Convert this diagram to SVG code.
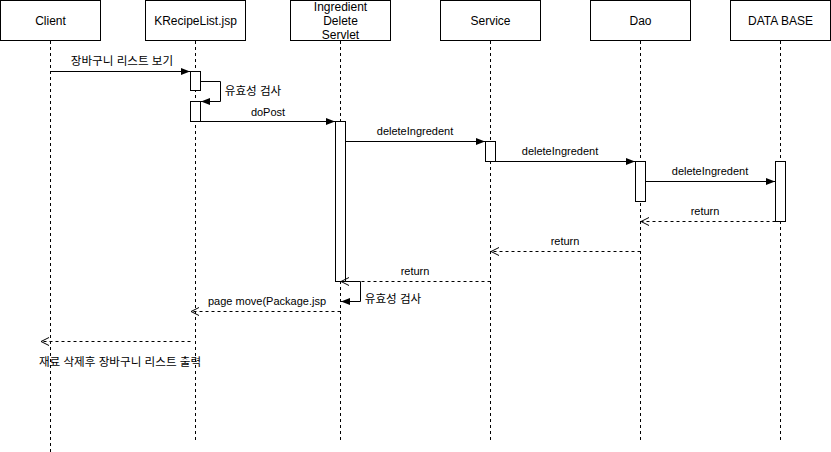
<svg xmlns="http://www.w3.org/2000/svg" width="831" height="452" viewBox="0 0 831 452">
  <style>
    .box { fill: #fff; stroke: #000; stroke-width: 1; }
    .life { stroke: #000; stroke-width: 1; stroke-dasharray: 3 3; fill: none; }
    .act { fill: #fff; stroke: #000; stroke-width: 1; }
    .title { font-family: "Liberation Sans", Arial, sans-serif; font-size: 12px; fill: #000; text-anchor: middle; }
    .lbl { font-family: "Liberation Sans", Arial, "Noto Sans CJK KR", sans-serif; font-size: 11px; fill: #000; text-anchor: middle; }
    .ko { font-size: 11.6px; }
    .call { stroke: #000; stroke-width: 1; fill: none; marker-end: url(#block); }
    .ret { stroke: #000; stroke-width: 1; fill: none; stroke-dasharray: 3 3; marker-end: url(#open); }
  </style>
  <defs>
    <marker id="block" markerWidth="10" markerHeight="8" refX="9" refY="4" orient="auto" markerUnits="userSpaceOnUse">
      <path d="M0,0.5 L9,4 L0,7.5 Z" fill="#000"/>
    </marker>
    <marker id="open" markerWidth="10" markerHeight="10" refX="9" refY="4" orient="auto" markerUnits="userSpaceOnUse">
      <path d="M1,0 L9,4 L1,8" fill="none" stroke="#000" stroke-width="1"/>
    </marker>
  </defs>
  <rect width="831" height="452" fill="#fff"/>

  <!-- participants with their lifelines -->
  <g id="client">
    <line class="life" x1="50.5" y1="41" x2="50.5" y2="452"/>
    <rect class="box" x="0.5" y="0.5" width="100" height="40"/>
    <text class="title" x="50.5" y="25">Client</text>
  </g>
  <g id="krecipelist">
    <line class="life" x1="195.5" y1="41" x2="195.5" y2="440"/>
    <rect class="box" x="145.5" y="0.5" width="100" height="40"/>
    <text class="title" x="195.5" y="25">KRecipeList.jsp</text>
  </g>
  <g id="servlet">
    <line class="life" x1="340.5" y1="41" x2="340.5" y2="440"/>
    <rect class="box" x="290.5" y="0.5" width="100" height="40"/>
    <text class="title" x="340.5" y="11">Ingredient</text>
    <text class="title" x="340.5" y="25">Delete</text>
    <text class="title" x="340.5" y="39">Servlet</text>
  </g>
  <g id="service">
    <line class="life" x1="490.5" y1="41" x2="490.5" y2="440"/>
    <rect class="box" x="440.5" y="0.5" width="100" height="40"/>
    <text class="title" x="490.5" y="25">Service</text>
  </g>
  <g id="dao">
    <line class="life" x1="640.5" y1="41" x2="640.5" y2="440"/>
    <rect class="box" x="590.5" y="0.5" width="100" height="40"/>
    <text class="title" x="640.5" y="25">Dao</text>
  </g>
  <g id="database">
    <line class="life" x1="780.5" y1="41" x2="780.5" y2="440"/>
    <rect class="box" x="730.5" y="0.5" width="100" height="40"/>
    <text class="title" x="780.5" y="25">DATA BASE</text>
  </g>

  <!-- activation bars -->
  <g id="activations">
    <rect class="act" x="190.5" y="71.5" width="10" height="19"/>
    <rect class="act" x="190.5" y="101.5" width="10" height="20"/>
    <rect class="act" x="335.5" y="121.5" width="10" height="160"/>
    <rect class="act" x="485.5" y="141.5" width="10" height="20"/>
    <rect class="act" x="635.5" y="161.5" width="10" height="40"/>
    <rect class="act" x="775.5" y="161.5" width="10" height="60"/>
  </g>

  <!-- messages -->
  <g id="connectors">
    <line class="call" x1="50.5" y1="71.5" x2="190" y2="71.5"/>
    <text class="lbl ko" x="122" y="65">장바구니 리스트 보기</text>

    <path class="call" d="M200.5,81.5 H220.5 V101.5 H201"/>
    <text class="lbl ko" x="253" y="95">유효성 검사</text>

    <line class="call" x1="200.5" y1="121.5" x2="335" y2="121.5"/>
    <text class="lbl" x="268" y="116">doPost</text>

    <line class="call" x1="345.5" y1="141.5" x2="485" y2="141.5"/>
    <text class="lbl" x="415" y="135">deleteIngredent</text>

    <line class="call" x1="495.5" y1="161.5" x2="635" y2="161.5"/>
    <text class="lbl" x="560" y="155">deleteIngredent</text>

    <line class="call" x1="645.5" y1="181.5" x2="775" y2="181.5"/>
    <text class="lbl" x="710" y="175">deleteIngredent</text>

    <line class="ret" x1="775.5" y1="221.5" x2="641" y2="221.5"/>
    <text class="lbl" x="705" y="215">return</text>

    <line class="ret" x1="640.5" y1="251.5" x2="491" y2="251.5"/>
    <text class="lbl" x="565" y="245">return</text>

    <line class="ret" x1="490.5" y1="281.5" x2="341" y2="281.5"/>
    <text class="lbl" x="415" y="275">return</text>

    <path class="call" d="M340.5,281.5 H360.5 V301.5 H341"/>
    <text class="lbl ko" x="393" y="303">유효성 검사</text>

    <line class="ret" x1="340.5" y1="311.5" x2="191" y2="311.5"/>
    <text class="lbl" x="267" y="305">page move(Package.jsp</text>

    <line class="ret" x1="190.5" y1="341.5" x2="41" y2="341.5"/>
    <text class="lbl ko" x="120" y="366">재료 삭제후 장바구니 리스트 출력</text>
  </g>
</svg>
